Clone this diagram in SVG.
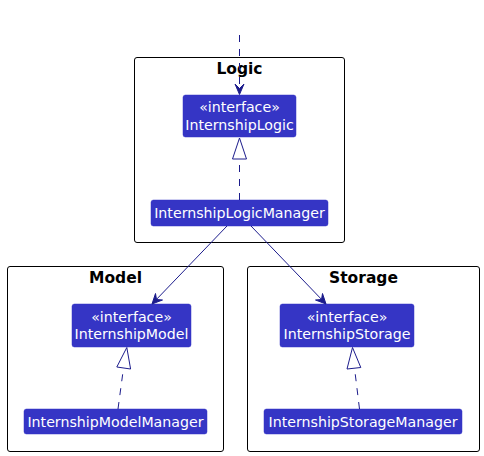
<svg xmlns="http://www.w3.org/2000/svg" width="484" height="456" viewBox="0 0 484 456">
  <style>
    .pkg { fill: #ffffff; stroke: #000000; stroke-width: 1; }
    .pkg-title { font-family: "DejaVu Sans", sans-serif; font-size: 15.5px; font-weight: bold; fill: #000000; text-anchor: middle; }
    .node rect { fill: #3535C5; stroke: #3535C5; stroke-width: 0.5; }
    .node text { font-family: "DejaVu Sans", sans-serif; font-size: 14.2px; fill: #ffffff; text-anchor: middle; }
    .link { fill: none; stroke: #1C1C8C; stroke-width: 1; }
    .dash { stroke-dasharray: 7 7; }
    .head { fill: #1C1C8C; stroke: #1C1C8C; stroke-width: 1; }
    .tri { fill: #ffffff; stroke: #1C1C8C; stroke-width: 1; }
  </style>

  <!-- packages -->
  <g id="pkg-logic">
    <rect class="pkg" x="134.5" y="57.5" width="210" height="185" rx="2.5"/>
    <text class="pkg-title" x="239.5" y="74">Logic</text>
  </g>
  <g id="pkg-model">
    <rect class="pkg" x="7.5" y="266.5" width="216" height="185" rx="2.5"/>
    <text class="pkg-title" x="115.5" y="283">Model</text>
  </g>
  <g id="pkg-storage">
    <rect class="pkg" x="247.5" y="266.5" width="232" height="185" rx="2.5"/>
    <text class="pkg-title" x="363.5" y="283">Storage</text>
  </g>

  <!-- nodes -->
  <g id="internship-logic" class="node">
    <rect x="183" y="95" width="113" height="42" rx="2.5"/>
    <text x="239.5" y="112">«interface»</text>
    <text x="239.5" y="129.5">InternshipLogic</text>
  </g>
  <g id="internship-logic-manager" class="node">
    <rect x="151" y="200" width="177" height="26" rx="2.5"/>
    <text x="239.5" y="218">InternshipLogicManager</text>
  </g>
  <g id="internship-model" class="node">
    <rect x="72" y="304" width="119" height="43" rx="2.5"/>
    <text x="131.5" y="321.5">«interface»</text>
    <text x="131.5" y="339">InternshipModel</text>
  </g>
  <g id="internship-model-manager" class="node">
    <rect x="24" y="409" width="183" height="25" rx="2.5"/>
    <text x="115.5" y="426.5">InternshipModelManager</text>
  </g>
  <g id="internship-storage" class="node">
    <rect x="280" y="304" width="134" height="43" rx="2.5"/>
    <text x="347" y="321.5">«interface»</text>
    <text x="347" y="339">InternshipStorage</text>
  </g>
  <g id="internship-storage-manager" class="node">
    <rect x="264" y="409" width="198" height="25" rx="2.5"/>
    <text x="363" y="426.5">InternshipStorageManager</text>
  </g>

  <!-- connectors -->
  <g id="connectors">
    <!-- incoming dependency on InternshipLogic -->
    <path class="link dash" d="M239.5,35 L239.5,93"/>
    <polygon class="head" points="239.5,94.5 235,84 239.5,88.5 244,84"/>

    <!-- realization: InternshipLogicManager -> InternshipLogic -->
    <path class="link dash" d="M239.5,200 L239.5,159"/>
    <polygon class="tri" points="239.5,138 232.5,159 246.5,159"/>

    <!-- association: InternshipLogicManager -> InternshipModel -->
    <path class="link" d="M227,226 L153,303"/>
    <polygon class="head" points="152,304 155.5,293.5 156.5,299.5 162.5,300"/>

    <!-- association: InternshipLogicManager -> InternshipStorage -->
    <path class="link" d="M251,226 L325,303"/>
    <polygon class="head" points="326,304 315.5,300 321.5,299.5 322.5,293.5"/>

    <!-- realization: InternshipModelManager -> InternshipModel -->
    <path class="link dash" d="M118,409 L123.5,368"/>
    <polygon class="tri" points="126.8,347.5 116.8,367 130.6,369"/>

    <!-- realization: InternshipStorageManager -> InternshipStorage -->
    <path class="link dash" d="M359.5,409 L354.5,368"/>
    <polygon class="tri" points="352.5,347.5 347,369 360.8,367.5"/>
  </g>
</svg>
